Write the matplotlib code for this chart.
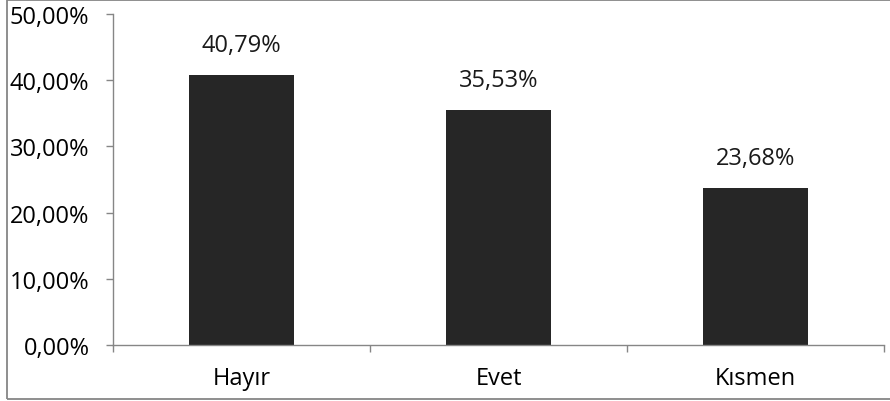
import matplotlib
matplotlib.use('Agg')
import matplotlib.pyplot as plt
from matplotlib.patches import Rectangle
import numpy as np

categories = ['Hayır', 'Evet', 'Kısmen']
values = [40.79, 35.53, 23.68]
y_ticks = [0, 10, 20, 30, 40, 50]
y_labels = ['0,00%', '10,00%', '20,00%', '30,00%', '40,00%', '50,00%']

plt.rcParams['font.family'] = ['Open Sans', 'DejaVu Sans']
plt.rcParams['font.size'] = 17

fig = plt.figure(figsize=(8.9, 4.02), dpi=100)
ax = fig.add_axes([113 / 890, 56 / 402, 771 / 890, 331 / 402])

x = np.arange(len(categories))
bars = ax.bar(x, values, width=0.405, color='#262626')

for xi, v in zip(x, values):
    ax.annotate(f'{v:.2f}%'.replace('.', ','), (xi, v), xytext=(0, 13),
                textcoords='offset points', ha='center', va='bottom',
                color='#1a1a1a')

ax.set_xlim(-0.5, len(categories) - 0.5)
ax.set_ylim(0, 50)
ax.set_yticks(y_ticks)
ax.set_yticklabels(y_labels)

ax.set_xticks(np.arange(len(categories) + 1) - 0.5)
ax.set_xticklabels([])
ax.set_xticks(x, minor=True)
ax.set_xticklabels(categories, minor=True)
ax.tick_params(axis='x', which='minor', length=0, pad=15)
ax.tick_params(axis='x', which='major', length=5, width=1, color='#868686', direction='out')
ax.tick_params(axis='y', length=5, width=1, color='#868686', pad=12)

for side in ['top', 'right']:
    ax.spines[side].set_visible(False)
for side in ['left', 'bottom']:
    ax.spines[side].set_color('#868686')
    ax.spines[side].set_linewidth(1)

fig.patches.append(Rectangle((6.5 / 890, 2.5 / 402), 1.0, 398.5 / 402,
                             transform=fig.transFigure, fill=False,
                             edgecolor='#868686', linewidth=1.3))

fig.savefig('out.png', dpi=100)
